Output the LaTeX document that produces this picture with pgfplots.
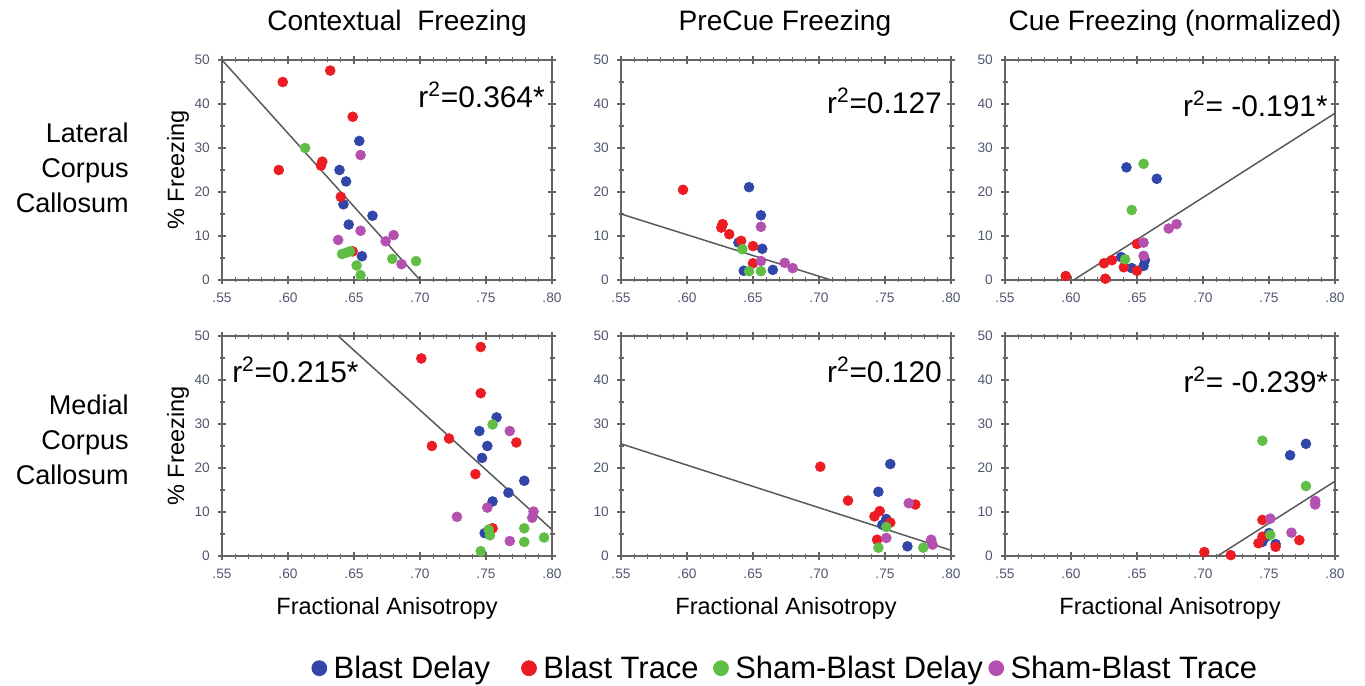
\documentclass[border=0pt]{standalone}
\usepackage{pgfplots}
\pgfplotsset{compat=1.18}
\usepackage{fontspec}
\setmainfont{Liberation Sans}

\definecolor{cblue}{RGB}{50,70,170}
\definecolor{cred}{RGB}{235,28,36}
\definecolor{cgreen}{RGB}{96,190,70}
\definecolor{cmag}{RGB}{180,80,175}
\definecolor{axgray}{RGB}{100,100,100}
\definecolor{tickc}{RGB}{80,86,110}

\tikzset{rsq/.style={font=\fontsize{17}{19}\selectfont, inner sep=0pt}}

\pgfplotsset{
  panel/.style={
    scale only axis, width=66mm, height=44mm,
    xmin=0.55, xmax=0.80, ymin=0, ymax=50,
    xtick={0.55,0.60,0.65,0.70,0.75,0.80},
    xticklabels={.55,.60,.65,.70,.75,.80},
    ytick={0,10,...,50},
    minor x tick num=4, minor y tick num=1,
    axis line style={draw=axgray, line width=1.2pt},
    tick style={draw=axgray, line width=0.7pt},
    tick align=center,
    major tick length=1.6mm, minor tick length=1.0mm,
    ticklabel style={font=\fontsize{7.8}{8}\selectfont, text=tickc},
    /pgf/number format/assume math mode=true,
    xticklabel style={yshift=-0.6mm},
    yticklabel style={xshift=-0.4mm},
    label style={font=\fontsize{13.4}{15}\selectfont},
  },
  bd/.style={only marks, mark=*, mark size=2.8pt, color=cblue},
  bt/.style={only marks, mark=*, mark size=2.8pt, color=cred},
  sd/.style={only marks, mark=*, mark size=2.8pt, color=cgreen},
  st/.style={only marks, mark=*, mark size=2.8pt, color=cmag},
  regline/.style={no marks, color=black!65, line width=0.85pt, forget plot},
  leftcol/.style={ylabel={\% Freezing},
    ylabel style={at={(axis description cs:-0.133,0.5)}, anchor=center}},
  botrow/.style={xlabel={Fractional Anisotropy},
    xlabel style={at={(axis description cs:0.5,-0.236)}, anchor=center}},
}

\begin{document}
\begin{tikzpicture}
\path[use as bounding box] (0,0) rectangle (273mm,-137.2mm);

% ---------- top row: lateral corpus callosum ----------
\begin{axis}[panel, leftcol, at={(44.4mm,-56mm)}, anchor=south west]
\addplot[bd] coordinates {(0.654,31.6)(0.639,25.0)(0.644,22.4)(0.642,17.2)(0.646,12.6)(0.664,14.6)(0.656,5.4)};
\addplot[bt] coordinates {(0.596,45.0)(0.632,47.6)(0.649,37.1)(0.593,25.0)(0.626,26.9)(0.625,26.0)(0.640,18.9)(0.649,6.5)};
\addplot[sd] coordinates {(0.613,30.0)(0.641,5.9)(0.644,6.2)(0.647,6.5)(0.652,3.3)(0.655,1.1)(0.679,4.8)(0.697,4.3)};
\addplot[st] coordinates {(0.655,28.4)(0.655,11.2)(0.638,9.1)(0.674,8.8)(0.680,10.2)(0.686,3.6)};
\addplot[regline] coordinates {(0.55,50)(0.70,0)};
\node[rsq, anchor=north east] at (rel axis cs:0.979,0.9) {r\textsuperscript{2}=0.364*};
\end{axis}

\begin{axis}[panel, at={(124.2mm,-56mm)}, anchor=south west]
\addplot[bd] coordinates {(0.647,21.1)(0.656,14.7)(0.639,8.5)(0.657,7.1)(0.643,2.1)(0.665,2.3)};
\addplot[bt] coordinates {(0.597,20.5)(0.627,12.7)(0.626,11.9)(0.632,10.4)(0.641,8.9)(0.650,7.7)(0.650,3.8)};
\addplot[sd] coordinates {(0.642,7.0)(0.647,2.0)(0.656,2.0)};
\addplot[st] coordinates {(0.656,12.1)(0.656,4.3)(0.674,3.9)(0.680,2.7)};
\addplot[regline] coordinates {(0.55,15)(0.709,0)};
\node[rsq, anchor=north east] at (rel axis cs:0.973,0.873) {r\textsuperscript{2}=0.127};
\end{axis}

\begin{axis}[panel, at={(201mm,-56mm)}, anchor=south west]
\addplot[bd] coordinates {(0.642,25.6)(0.665,23.0)(0.638,5.2)(0.646,2.7)(0.656,4.5)(0.655,3.2)};
\addplot[bt] coordinates {(0.596,0.9)(0.626,0.3)(0.625,3.8)(0.631,4.5)(0.640,2.9)(0.650,8.2)(0.650,2.1)};
\addplot[sd] coordinates {(0.655,26.4)(0.646,15.9)(0.641,4.7)};
\addplot[st] coordinates {(0.655,8.5)(0.655,5.5)(0.674,11.7)(0.680,12.7)};
\addplot[regline] coordinates {(0.602,0)(0.80,37.9)};
\node[rsq, anchor=north east] at (rel axis cs:0.979,0.86) {r\textsuperscript{2}= -0.191*};
\end{axis}

% ---------- bottom row: medial corpus callosum ----------
\begin{axis}[panel, leftcol, botrow, at={(44.4mm,-111.2mm)}, anchor=south west]
\addplot[bd] coordinates {(0.758,31.5)(0.745,28.4)(0.751,25.0)(0.747,22.3)(0.779,17.1)(0.767,14.4)(0.755,12.4)(0.749,5.2)};
\addplot[bt] coordinates {(0.701,44.9)(0.746,47.5)(0.746,37.0)(0.709,25.0)(0.722,26.7)(0.773,25.8)(0.742,18.6)(0.755,6.3)};
\addplot[sd] coordinates {(0.755,29.9)(0.752,6.0)(0.753,4.7)(0.779,6.3)(0.779,3.2)(0.794,4.2)(0.746,1.1)};
\addplot[st] coordinates {(0.768,28.4)(0.751,11.0)(0.728,8.9)(0.786,10.1)(0.785,8.7)(0.768,3.4)};
\addplot[regline] coordinates {(0.638,50)(0.80,6.0)};
\node[rsq, anchor=north west] at (rel axis cs:0.03,0.905) {r\textsuperscript{2}=0.215*};
\end{axis}

\begin{axis}[panel, botrow, at={(124.2mm,-111.2mm)}, anchor=south west,
  legend columns=4,
  legend style={at={(axis description cs:0.5,-0.51)}, anchor=center, draw=none,
    font=\fontsize{17.6}{20}\selectfont,
    /tikz/every odd column/.style={column sep=0.6mm},
    /tikz/column 2/.style={column sep=5.5mm},
    /tikz/column 4/.style={column sep=2.2mm},
    /tikz/column 6/.style={column sep=0.4mm}},
  legend image code/.code={\fill (0mm,0mm) circle (1.5mm);}]
\addplot[bd] coordinates {(0.754,20.9)(0.745,14.6)(0.751,8.4)(0.748,7.1)(0.767,2.2)};
\addplot[bt] coordinates {(0.701,20.3)(0.722,12.6)(0.773,11.7)(0.746,10.2)(0.742,9.0)(0.754,7.6)(0.744,3.7)};
\addplot[sd] coordinates {(0.751,6.6)(0.745,1.9)(0.779,1.9)};
\addplot[st] coordinates {(0.768,12.0)(0.751,4.1)(0.785,3.7)(0.786,2.6)};
\addplot[regline] coordinates {(0.55,25.5)(0.80,1.3)};
\node[rsq, anchor=north east] at (rel axis cs:0.973,0.905) {r\textsuperscript{2}=0.120};
\legend{Blast Delay, Blast Trace, Sham-Blast Delay, Sham-Blast Trace}
\end{axis}

\begin{axis}[panel, botrow, at={(201mm,-111.2mm)}, anchor=south west]
\addplot[bd] coordinates {(0.778,25.5)(0.766,22.9)(0.745,3.2)(0.748,4.4)(0.755,2.7)(0.750,5.2)};
\addplot[bt] coordinates {(0.701,0.9)(0.721,0.2)(0.745,8.2)(0.745,4.4)(0.742,2.9)(0.755,2.1)(0.773,3.6)};
\addplot[sd] coordinates {(0.745,26.2)(0.778,15.9)(0.751,4.8)};
\addplot[st] coordinates {(0.751,8.5)(0.767,5.3)(0.785,12.5)(0.785,11.7)};
\addplot[regline] coordinates {(0.711,0)(0.80,17.0)};
\node[rsq, anchor=north east] at (rel axis cs:0.98,0.86) {r\textsuperscript{2}= -0.239*};
\end{axis}

% ---------- column titles and row labels ----------
\node[font=\fontsize{16}{18}\selectfont] at (79.4mm,-4.6mm) {Contextual\ \ Freezing};
\node[font=\fontsize{16}{18}\selectfont] at (157mm,-4.6mm) {PreCue Freezing};
\node[font=\fontsize{16}{18}\selectfont] at (235mm,-4.6mm) {Cue Freezing (normalized)};
\node[font=\fontsize{15.4}{20}\selectfont, align=right, anchor=east, inner sep=0pt]
  at (25.8mm,-33.6mm) {Lateral\\Corpus\\Callosum};
\node[font=\fontsize{15.4}{20}\selectfont, align=right, anchor=east, inner sep=0pt]
  at (25.8mm,-88mm) {Medial\\Corpus\\Callosum};
\end{tikzpicture}
\end{document}
